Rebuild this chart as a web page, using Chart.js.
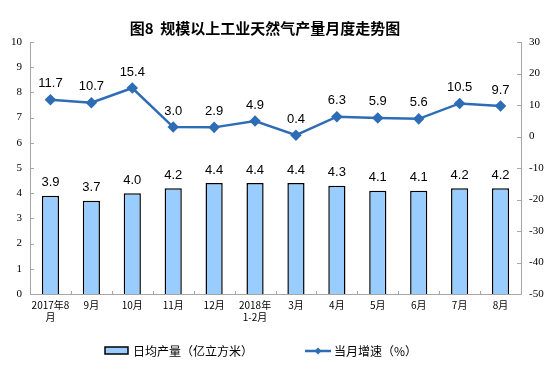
<!DOCTYPE html>
<html><head><meta charset="utf-8">
<script src="https://cdn.jsdelivr.net/npm/chart.js@4"></script>
<style>html,body{margin:0;padding:0;background:#fff}#w{width:558px;height:384px;position:relative}</style>
</head><body><div id="w"><canvas id="c" width="558" height="384"></canvas></div>
<script>
const categories = [["2017年8","月"],"9月","10月","11月","12月",["2018年","1-2月"],"3月","4月","5月","6月","7月","8月"];
const dailyOutput = [3.9,3.7,4.0,4.2,4.4,4.4,4.4,4.3,4.1,4.1,4.2,4.2];
const growthRate = [11.7,10.7,15.4,3.0,2.9,4.9,0.4,6.3,5.9,5.6,10.5,9.7];
const leftTicks = [0,1,2,3,4,5,6,7,8,9,10];
const rightTicks = [-50,-40,-30,-20,-10,0,10,20,30];
const titleText = "图8  规模以上工业天然气产量月度走势图";
const barLegend = "日均产量（亿立方米）";
const lineLegend = "当月增速（%）";

const AXIS = '#A6A6A6';
const LINE = '#2E6DB6';
const CJK = '"Noto Sans CJK SC", sans-serif';

const extras = {
  id: 'extras',
  afterDatasetsDraw(chart) {
    const ctx = chart.ctx, a = chart.chartArea;
    ctx.save();
    ctx.strokeStyle = AXIS; ctx.lineWidth = 1;
    ctx.beginPath();
    ctx.moveTo(a.left + 0.5, a.top); ctx.lineTo(a.left + 0.5, a.bottom + 0.5);
    ctx.lineTo(a.right + 0.5, a.bottom + 0.5); ctx.lineTo(a.right + 0.5, a.top);
    const yl = chart.scales.y, yr = chart.scales.y1;
    yl.ticks.forEach(t => { const p = Math.round(yl.getPixelForValue(t.value)) + 0.5; ctx.moveTo(a.left, p); ctx.lineTo(a.left + 4, p); });
    yr.ticks.forEach(t => { const p = Math.round(yr.getPixelForValue(t.value)) + 0.5; ctx.moveTo(a.right, p); ctx.lineTo(a.right - 4, p); });
    const n = categories.length, w = (a.right - a.left) / n;
    for (let i = 1; i < n; i++) { const p = Math.round(a.left + i * w) + 0.5; ctx.moveTo(p, a.bottom); ctx.lineTo(p, a.bottom - 3); }
    ctx.stroke();
    ctx.fillStyle = '#000';
    ctx.font = '13px "Liberation Sans", Arial, sans-serif';
    ctx.textAlign = 'center'; ctx.textBaseline = 'middle';
    chart.getDatasetMeta(1).data.forEach((el, i) => { ctx.fillText(dailyOutput[i].toFixed(1), el.x, el.y - 13); });
    chart.getDatasetMeta(0).data.forEach((el, i) => { ctx.fillText(growthRate[i].toFixed(1), el.x, el.y - 16); });
    ctx.font = 'bold 15px ' + CJK;
    ctx.fillText(titleText, 265, 28);
    ctx.fillStyle = '#99CCFF'; ctx.strokeStyle = '#000'; ctx.lineWidth = 1.5;
    ctx.fillRect(105, 347, 23, 7); ctx.strokeRect(105, 347, 23, 7);
    ctx.fillStyle = '#000'; ctx.font = '12px ' + CJK; ctx.textAlign = 'left';
    ctx.fillText(barLegend, 133, 351);
    ctx.strokeStyle = LINE; ctx.lineWidth = 2.5;
    ctx.beginPath(); ctx.moveTo(305, 351); ctx.lineTo(331, 351); ctx.stroke();
    ctx.fillStyle = LINE; ctx.beginPath();
    ctx.moveTo(318, 347.5); ctx.lineTo(321.5, 351); ctx.lineTo(318, 354.5); ctx.lineTo(314.5, 351); ctx.closePath(); ctx.fill();
    ctx.fillStyle = '#000';
    ctx.fillText(lineLegend, 334, 351);
    ctx.restore();
  }
};

new Chart(document.getElementById('c'), {
  data: {
    labels: categories,
    datasets: [
      { type: 'line', label: lineLegend, data: growthRate, yAxisID: 'y1', borderColor: LINE, backgroundColor: LINE,
        borderWidth: 2.5, pointStyle: 'rectRot', pointRadius: 4, pointHoverRadius: 4, tension: 0, order: 0 },
      { type: 'bar', label: barLegend, data: dailyOutput, yAxisID: 'y', backgroundColor: '#99CCFF', borderColor: '#000',
        borderWidth: 1.5, barPercentage: 0.42, categoryPercentage: 1.0, order: 1 }
    ]
  },
  options: {
    responsive: false, animation: false, devicePixelRatio: 1,
    layout: { padding: { top: 42, bottom: 0, left: 0, right: 0 } },
    plugins: { legend: { display: false }, title: { display: false }, tooltip: { enabled: false } },
    scales: {
      x: { offset: true, grid: { display: false, drawTicks: false }, border: { display: false },
        ticks: { color: '#000', font: { family: CJK, size: 10 }, padding: 5, maxRotation: 0, autoSkip: false },
        afterFit(s) { s.height = 90; } },
      y: { position: 'left', min: 0, max: 10, grid: { display: false, drawTicks: false }, border: { display: false },
        ticks: { stepSize: 1, color: '#000', font: { family: '"Liberation Serif", serif', size: 11 }, padding: 8 },
        afterFit(s) { s.width = 30; } },
      y1: { position: 'right', min: -50, max: 30, grid: { display: false, drawTicks: false }, border: { display: false },
        ticks: { stepSize: 10, color: '#000', font: { family: '"Liberation Serif", serif', size: 11 }, padding: 8 },
        afterFit(s) { s.width = 37; } }
    }
  },
  plugins: [extras]
});
</script></body></html>
